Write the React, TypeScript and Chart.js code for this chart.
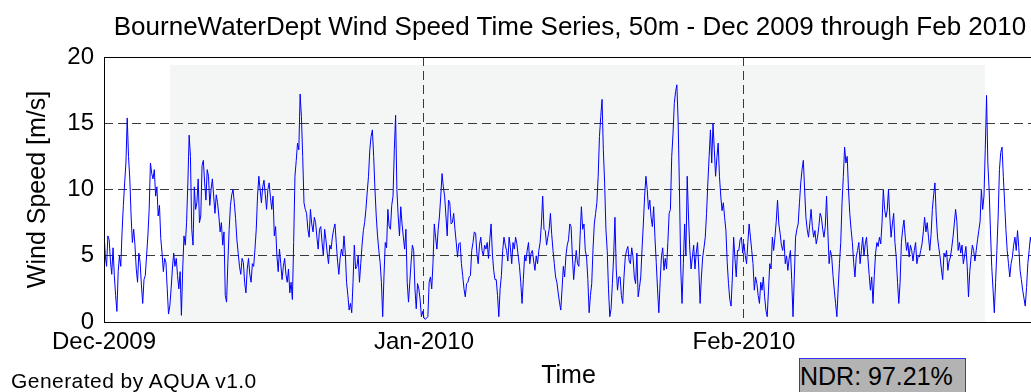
import React, { useEffect, useRef } from "react";
import { Chart, registerables } from "chart.js";

Chart.register(...registerables);

// 50 m wind speed [m/s], 8 samples per day, starting 1 Dec 2009
const SAMPLES_PER_DAY = 8;

const decSpeeds = [
  6.8, 5.0, 4.2, 6.5, 6.2, 4.6, 3.6, 5.6,
  3.5, 2.0, 0.8, 3.8, 5.0, 4.2, 6.8, 8.8,
  10.5, 12.0, 15.4, 12.5, 10.8, 8.0, 6.0, 7.0,
  5.8, 4.0, 3.0, 5.2, 4.5, 2.8, 1.4, 3.2,
  3.5, 5.0, 6.5, 8.5, 12.0, 11.2, 10.8, 11.5,
  9.5, 10.2, 8.0, 8.8, 6.3, 5.2, 3.8, 4.8,
  4.5, 2.5, 0.6, 1.2, 2.5, 4.0, 5.2, 4.2,
  4.8, 3.5, 2.5, 3.8, 0.5, 4.0, 6.5, 5.8,
  7.5, 10.5, 14.1, 12.5, 7.0, 5.8, 10.2, 8.5,
  9.0, 10.8, 7.5, 8.0, 11.8, 12.2, 10.5, 9.2,
  11.5, 11.0, 8.8, 10.0, 10.8, 9.5, 8.2, 9.6,
  9.0, 8.0, 6.8, 7.5, 5.8, 6.8, 2.0, 1.5,
  4.5, 7.0, 8.8, 9.6, 10.0, 9.0, 7.8, 6.2,
  5.2, 4.2, 3.6, 4.8, 4.5, 3.0, 2.2, 4.0,
  4.8, 3.6, 3.0, 4.4, 4.2, 5.5, 7.0, 9.5,
  11.0, 10.0, 9.0, 10.2, 10.7, 9.6, 8.5, 10.0,
  10.5, 9.4, 8.5, 9.5, 6.5, 7.2, 5.0, 3.8,
  5.5, 4.4, 3.2, 4.2, 4.8, 3.6, 3.0, 4.0,
  2.2, 3.0, 1.7, 6.0, 11.0, 12.2, 13.5, 13.0,
  17.2, 15.5, 12.5, 9.0, 8.5, 8.2, 7.0, 6.4,
  8.5, 7.4, 6.8, 7.9, 7.5, 6.4, 5.5, 7.0,
  7.2, 6.0, 5.0, 7.0, 6.2, 5.2, 4.4, 5.8,
  5.5, 6.4, 7.0, 7.4, 6.0, 4.6, 3.6, 4.8,
  5.5, 5.0, 6.5, 5.2, 3.0, 2.0, 0.9, 1.4,
  0.7, 3.0, 5.8, 4.0, 4.2, 5.0, 3.0, 4.4,
  5.8, 6.9, 7.5, 8.5, 9.8, 11.0, 13.0, 14.0,
  14.5, 12.5, 10.0, 8.0, 6.5, 5.4, 4.5, 3.0,
  0.4, 3.5, 6.0, 5.6, 8.5, 7.2, 7.0, 8.8,
  9.5, 13.0, 15.6, 10.0, 8.0, 6.5, 8.7, 7.4,
  6.4, 5.5, 7.0, 3.0, 1.5, 3.0, 4.5, 5.8,
  5.4, 2.5, 1.0, 2.9, 2.5, 1.7, 0.4, 0.8,
];

const janSpeeds = [
  0.3, 0.2, 0.3, 0.4, 3.0, 3.4, 2.5, 4.5,
  7.4, 6.4, 5.5, 7.0, 8.0, 9.5, 11.2, 10.2,
  9.5, 8.0, 6.5, 9.2, 9.0, 7.4, 7.5, 8.2,
  7.0, 6.0, 4.9, 5.9, 6.0, 4.4, 3.5, 2.5,
  1.9, 2.9, 3.0, 3.4, 3.5, 5.4, 6.0, 6.8,
  6.7, 5.2, 4.4, 5.8, 6.4, 5.4, 5.0, 5.8,
  5.5, 6.0, 4.8, 6.2, 7.4, 5.2, 3.9, 3.2,
  3.2, 2.0, 0.4, 2.5, 3.5, 5.4, 6.4, 5.8,
  5.4, 4.6, 6.4, 5.6, 4.4, 6.0, 5.5, 6.4,
  5.9, 5.0, 4.2, 3.0, 1.4, 3.2, 5.0, 4.6,
  5.4, 6.0, 4.4, 5.2, 5.4, 4.6, 3.9, 5.0,
  4.4, 5.4, 6.0, 7.4, 9.5, 7.0, 6.9, 5.8,
  6.4, 7.0, 8.2, 6.6, 5.4, 4.4, 3.4, 3.0,
  2.2, 1.5, 0.9, 2.5, 4.2, 3.4, 5.0, 5.8,
  6.2, 7.4, 7.2, 5.0, 3.2, 4.4, 5.4, 4.4,
  4.2, 6.5, 8.7, 7.0, 7.4, 5.4, 4.9, 3.2,
  0.7, 2.0, 2.9, 5.5, 7.4, 8.2, 9.0, 11.0,
  14.0, 15.5, 16.8, 13.0, 10.5, 7.0, 5.4, 2.5,
  0.4, 1.0, 2.9, 5.0, 7.9, 4.0, 2.4, 3.4,
  3.4, 2.0, 1.4, 3.4, 4.9, 5.4, 5.7, 4.6,
  4.4, 5.6, 4.9, 3.4, 2.9, 5.2, 1.9, 2.6,
  3.4, 5.5, 7.4, 9.5, 11.0, 10.0, 8.5, 9.2,
  7.9, 7.2, 8.7, 6.4, 4.5, 2.5, 0.7, 3.0,
  4.9, 5.6, 3.9, 4.8, 4.0, 6.0, 8.2, 8.5,
  12.5, 14.2, 16.5, 17.4, 17.9, 15.0, 10.0, 4.0,
  1.4, 4.4, 7.4, 5.0, 11.0, 8.0, 5.5, 4.0,
  4.9, 5.8, 4.0, 5.2, 6.0, 4.0, 1.4, 3.4,
  4.9, 5.6, 6.4, 8.2, 10.5, 12.5, 14.5, 12.0,
  15.0, 13.0, 11.0, 12.4, 13.5, 11.0, 9.5, 8.4,
  9.0, 7.9, 6.9, 4.5, 2.9, 1.7, 1.2, 3.4,
  6.4, 4.8, 3.4, 5.4, 5.4, 6.2, 6.4, 5.2,
];

const febSpeeds = [
  5.9, 5.0, 4.4, 6.0, 7.4, 6.4, 5.4, 4.4,
  2.4, 3.4, 2.9, 2.0, 1.4, 3.0, 2.4, 3.4,
  1.9, 0.9, 0.4, 2.4, 4.4, 4.0, 6.4, 5.4,
  6.4, 7.6, 9.2, 7.4, 6.7, 5.8, 5.4, 6.2,
  4.4, 5.0, 3.9, 4.8, 5.4, 3.2, 0.4, 3.4,
  6.4, 7.0, 7.4, 9.0, 10.5, 11.5, 12.2, 10.0,
  7.9, 7.0, 6.4, 7.4, 8.5, 7.2, 6.4, 6.9,
  5.9, 6.4, 7.2, 8.2, 7.9, 7.0, 6.4, 7.2,
  9.5, 6.8, 4.4, 5.4, 4.9, 3.5, 2.4, 1.4,
  0.4, 2.5, 4.4, 6.0, 9.0, 11.0, 13.2, 12.0,
  12.5, 10.0, 8.2, 7.0, 6.0, 4.5, 3.4, 4.9,
  5.4, 6.0, 4.4, 5.4, 6.4, 5.0, 5.9, 6.4,
  4.9, 3.6, 2.4, 3.4, 1.4, 3.5, 5.2, 6.0,
  5.7, 6.4, 5.9, 7.5, 10.0, 8.5, 7.9, 8.4,
  10.0, 8.0, 6.4, 7.4, 8.2, 6.0, 4.9, 3.0,
  1.4, 3.0, 6.0, 7.0, 7.7, 6.4, 5.4, 6.0,
  4.9, 5.8, 5.4, 4.6, 5.4, 6.0, 4.4, 5.0,
  4.9, 5.4, 5.9, 6.8, 7.9, 6.8, 7.5, 6.4,
  5.4, 6.6, 8.5, 9.6, 10.5, 8.0, 6.4, 5.6,
  4.9, 4.0, 3.2, 5.2, 4.9, 5.4, 3.9, 4.6,
  4.9, 5.6, 6.4, 7.4, 8.5, 7.6, 5.4, 6.0,
  5.2, 5.8, 4.4, 5.0, 5.7, 4.2, 1.9, 3.8,
  4.9, 5.8, 5.4, 4.6, 5.4, 6.2, 6.9, 7.6,
  10.0, 8.5, 9.5, 13.0, 17.1, 12.0, 10.0, 7.0,
  4.2, 2.5, 0.7, 3.0, 5.4, 8.0, 11.5, 12.8,
  13.2, 11.0, 9.0, 7.0, 5.4, 4.4, 3.4, 4.4,
  4.9, 5.8, 6.4, 5.4, 6.9, 5.6, 3.9, 3.2,
  2.4, 1.8, 1.2, 2.6, 4.4, 5.4, 6.4, 5.8,
];

// x axis: days since 1 Dec 2009 (Dec 1 .. Mar 1)
const xMinDay = 0;
const xMaxDay = 90;
const monthTickDays = [0, 31, 62];
const monthTickLabels = ["Dec-2009", "Jan-2010", "Feb-2010"];
const yMin = 0;
const yMax = 20;
const yStep = 5;

const TITLE = "BourneWaterDept Wind Speed Time Series, 50m - Dec 2009 through Feb 2010";
const Y_TITLE = "Wind Speed [m/s]";
const X_TITLE = "Time";
const FOOTER = "Generated by AQUA v1.0";
const NDR_TEXT = "NDR: 97.21%";

const FONT = "'Liberation Sans', Arial, Helvetica, sans-serif";

export default function App() {
  const canvasRef = useRef<HTMLCanvasElement | null>(null);

  useEffect(() => {
    const canvas = canvasRef.current;
    if (!canvas) return;
    const speeds = [...decSpeeds, ...janSpeeds, ...febSpeeds];
    const points = speeds.map((v, i) => ({ x: i / SAMPLES_PER_DAY, y: v }));

    const framePlugin = {
      id: "frame",
      beforeDraw(chart: any) {
        const { ctx, chartArea: a } = chart;
        ctx.save();
        ctx.fillStyle = "#ffffff";
        ctx.fillRect(0, 0, chart.width, chart.height);
        ctx.fillStyle = "#f3f6f4";
        ctx.fillRect(170, 65, 815, a.bottom - 65);
        ctx.restore();
      },
      afterDraw(chart: any) {
        const { ctx, chartArea: a } = chart;
        ctx.save();
        ctx.strokeStyle = "#000000";
        ctx.lineWidth = 1;
        ctx.setLineDash([]);
        ctx.strokeRect(
          Math.round(a.left) + 0.5,
          Math.round(a.top) + 0.5,
          Math.round(a.right - a.left),
          Math.round(a.bottom - a.top)
        );
        ctx.restore();
      },
    };

    const gridColor = (edgeValues: number[]) => (c: any) =>
      c.tick && edgeValues.includes(c.tick.value) ? "rgba(0,0,0,0)" : "#3a3a3a";

    const chart = new Chart(canvas, {
      type: "line",
      data: {
        datasets: [
          {
            data: points,
            borderColor: "#0000ff",
            borderWidth: 1,
            pointRadius: 0,
            tension: 0,
            fill: false,
          },
        ],
      },
      options: {
        responsive: false,
        animation: false,
        devicePixelRatio: 1,
        layout: { padding: { left: 0, top: 57, right: 7, bottom: 0 } },
        plugins: {
          legend: { display: false },
          tooltip: { enabled: false },
          title: { display: false },
        },
        scales: {
          x: {
            type: "linear",
            position: "bottom",
            min: xMinDay,
            max: xMaxDay,
            afterBuildTicks: (scale: any) => {
              scale.ticks = monthTickDays.map((v) => ({ value: v }));
            },
            afterFit: (scale: any) => {
              scale.height = 70;
            },
            ticks: {
              autoSkip: false,
              maxRotation: 0,
              padding: 6,
              color: "#000000",
              font: { family: FONT, size: 24 },
              callback: (value: any) => {
                const idx = monthTickDays.indexOf(Number(value));
                return idx >= 0 ? monthTickLabels[idx] : "";
              },
            },
            grid: {
              drawTicks: false,
              lineWidth: 1,
              color: gridColor([xMinDay, xMaxDay]),
            },
            border: { display: false, dash: [9, 5] },
            title: {
              display: true,
              text: X_TITLE,
              color: "#000000",
              font: { family: FONT, size: 25 },
              padding: { top: 0, bottom: 1 },
            },
          },
          y: {
            type: "linear",
            min: yMin,
            max: yMax,
            afterFit: (scale: any) => {
              scale.width = 104;
            },
            ticks: {
              stepSize: yStep,
              padding: 10,
              color: "#000000",
              font: { family: FONT, size: 24 },
            },
            grid: {
              drawTicks: false,
              lineWidth: 1,
              color: gridColor([yMin, yMax]),
            },
            border: { display: false, dash: [9, 5] },
            title: {
              display: true,
              text: Y_TITLE,
              color: "#000000",
              font: { family: FONT, size: 25 },
              padding: { top: 23, bottom: 0 },
            },
          },
        },
      },
      plugins: [framePlugin],
    } as any);

    return () => {
      chart.destroy();
    };
  }, []);

  return (
    <div
      style={{
        position: "fixed",
        left: 0,
        top: 0,
        width: 1031,
        height: 392,
        overflow: "hidden",
        background: "#ffffff",
        fontFamily: FONT,
        color: "#000000",
      }}
    >
      <canvas ref={canvasRef} width={1040} height={392} style={{ position: "absolute", left: 0, top: 0 }} />
      <div
        style={{
          position: "absolute",
          left: 0,
          width: 1140,
          top: 12,
          textAlign: "center",
          fontSize: 26,
          lineHeight: "28px",
          whiteSpace: "nowrap",
        }}
      >
        {TITLE}
      </div>
      <div
        style={{
          position: "absolute",
          left: 11,
          top: 369,
          fontSize: 21,
          lineHeight: "24px",
          letterSpacing: "0.45px",
          whiteSpace: "nowrap",
        }}
      >
        {FOOTER}
      </div>
      <div
        style={{
          position: "absolute",
          left: 799,
          top: 358,
          width: 165,
          height: 44,
          background: "#b3b3b3",
          border: "1px solid #3333ff",
          fontSize: 25,
          lineHeight: "30px",
          paddingTop: 2,
          whiteSpace: "nowrap",
          boxSizing: "content-box",
        }}
      >
        {NDR_TEXT}
      </div>
    </div>
  );
}
